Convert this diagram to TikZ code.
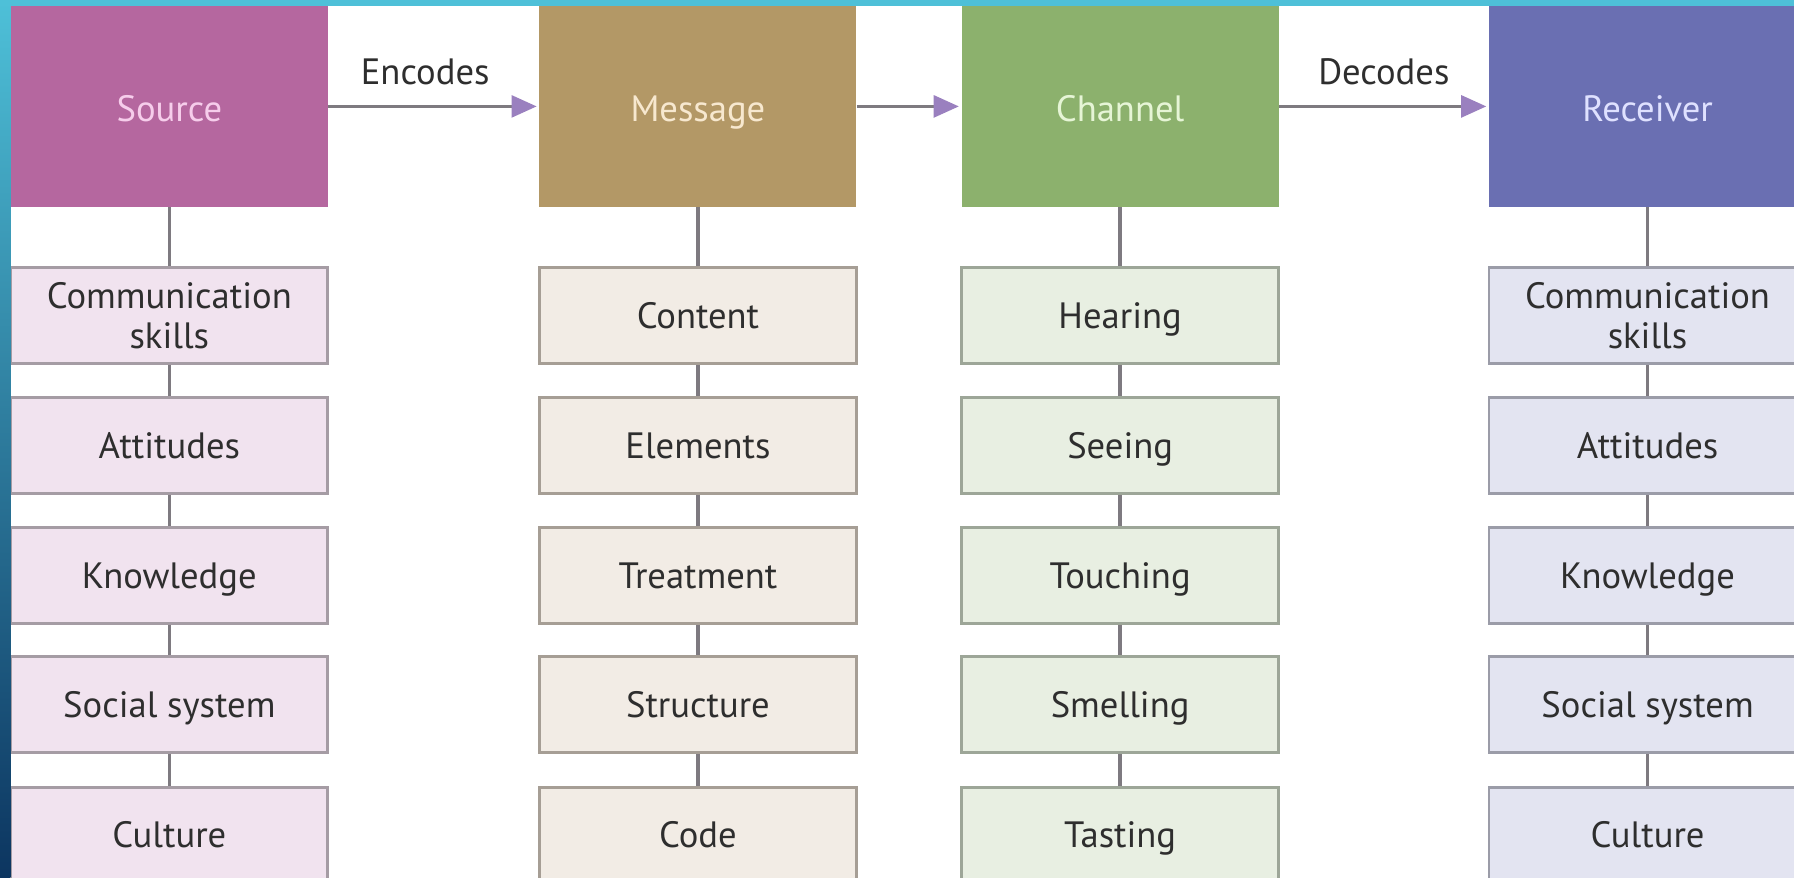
\documentclass[tikz,border=0pt]{standalone}
\usepackage{fontspec}
\setmainfont{PT Sans}
\usetikzlibrary{arrows.meta}
\definecolor{srcC}{HTML}{B5679F}
\definecolor{srcT}{HTML}{F6CDEB}
\definecolor{srcS}{HTML}{F1E3EF}
\definecolor{srcB}{HTML}{A59CA4}
\definecolor{msgC}{HTML}{B39866}
\definecolor{msgT}{HTML}{F7E8CF}
\definecolor{msgS}{HTML}{F2ECE5}
\definecolor{msgB}{HTML}{A69E95}
\definecolor{chC}{HTML}{8CB16D}
\definecolor{chT}{HTML}{E6F5D6}
\definecolor{chS}{HTML}{E8EFE2}
\definecolor{chB}{HTML}{9DA698}
\definecolor{rcC}{HTML}{6A6FB2}
\definecolor{rcT}{HTML}{DFE1FF}
\definecolor{rcS}{HTML}{E3E4F1}
\definecolor{rcB}{HTML}{9B9CA8}
\definecolor{connC}{HTML}{7E7A80}
\definecolor{tipC}{HTML}{9A80BF}
\definecolor{txtC}{HTML}{2E2E2E}
\definecolor{stripTop}{HTML}{4EC0D8}
\definecolor{stripBot}{HTML}{0C3560}
\begin{document}
\begin{tikzpicture}[x=0.5pt,y=-0.5pt,
  head/.style={rectangle, minimum width=138.5pt, minimum height=87.5pt, inner sep=0pt,
    text height=13.5pt, text depth=0.5pt, font=\fontsize{16}{19}\selectfont},
  subtwo/.style={rectangle, draw=#1, line width=1.2pt, minimum width=138.5pt, minimum height=42pt,
    inner sep=0pt, align=center, text=txtC, font=\fontsize{16}{17.5}\selectfont},
  sub/.style={subtwo=#1, text height=12.5pt, text depth=1.5pt},
  conn/.style={draw=connC, line width=1.5pt},
  arr/.style={draw=connC, line width=1.5pt, shorten >=1pt,
    -{Triangle[length=11pt,width=9.5pt,color=tipC]}},
  lbl/.style={text=txtC, font=\fontsize{16}{19}\selectfont, inner sep=0pt}]
\useasboundingbox (0,0) rectangle (1568,767);
\clip (0,0) rectangle (1568,767);
\fill[white] (0,0) rectangle (1568,767);

% header boxes
\node[head, fill=srcC, text=srcT] (src) at (148,93) {Source};
\node[head, fill=msgC, text=msgT] (msg) at (610,93) {Message};
\node[head, fill=chC, text=chT] (ch) at (979,93) {Channel};
\node[head, fill=rcC, text=rcT] (rc) at (1440,93) {Receiver};

% Source column
\node[subtwo=srcB, fill=srcS] (s1) at (148,276) {Communication\\skills};
\node[sub=srcB, fill=srcS] (s2) at (148,389.5) {Attitudes};
\node[sub=srcB, fill=srcS] (s3) at (148,503) {Knowledge};
\node[sub=srcB, fill=srcS] (s4) at (148,616) {Social system};
\node[sub=srcB, fill=srcS] (s5) at (148,730) {Culture};

% Message column
\node[sub=msgB, fill=msgS] (m1) at (610,276) {Content};
\node[sub=msgB, fill=msgS] (m2) at (610,389.5) {Elements};
\node[sub=msgB, fill=msgS] (m3) at (610,503) {Treatment};
\node[sub=msgB, fill=msgS] (m4) at (610,616) {Structure};
\node[sub=msgB, fill=msgS] (m5) at (610,730) {Code};

% Channel column
\node[sub=chB, fill=chS] (c1) at (979,276) {Hearing};
\node[sub=chB, fill=chS] (c2) at (979,389.5) {Seeing};
\node[sub=chB, fill=chS] (c3) at (979,503) {Touching};
\node[sub=chB, fill=chS] (c4) at (979,616) {Smelling};
\node[sub=chB, fill=chS] (c5) at (979,730) {Tasting};

% Receiver column
\node[subtwo=rcB, fill=rcS] (r1) at (1440,276) {Communication\\skills};
\node[sub=rcB, fill=rcS] (r2) at (1440,389.5) {Attitudes};
\node[sub=rcB, fill=rcS] (r3) at (1440,503) {Knowledge};
\node[sub=rcB, fill=rcS] (r4) at (1440,616) {Social system};
\node[sub=rcB, fill=rcS] (r5) at (1440,730) {Culture};

% vertical connectors
\foreach \h/\p in {src/s, msg/m, ch/c, rc/r}{
  \draw[conn] (\h) -- (\p1);
  \draw[conn] (\p1) -- (\p2);
  \draw[conn] (\p2) -- (\p3);
  \draw[conn] (\p3) -- (\p4);
  \draw[conn] (\p4) -- (\p5);
}

% horizontal arrows
\draw[arr] (src) -- (msg) node[lbl, pos=0.46, yshift=15pt] (enc) {Encodes};
\draw[arr] (msg) -- (ch);
\draw[arr] (ch) -- (rc) node[lbl, pos=0.5, yshift=15pt] (dec) {Decodes};

% slide background strips
\shade[top color=stripTop, bottom color=stripBot] (0,0) rectangle (9,767);
\fill[stripTop] (0,0) rectangle (1568,5);
\end{tikzpicture}
\end{document}
